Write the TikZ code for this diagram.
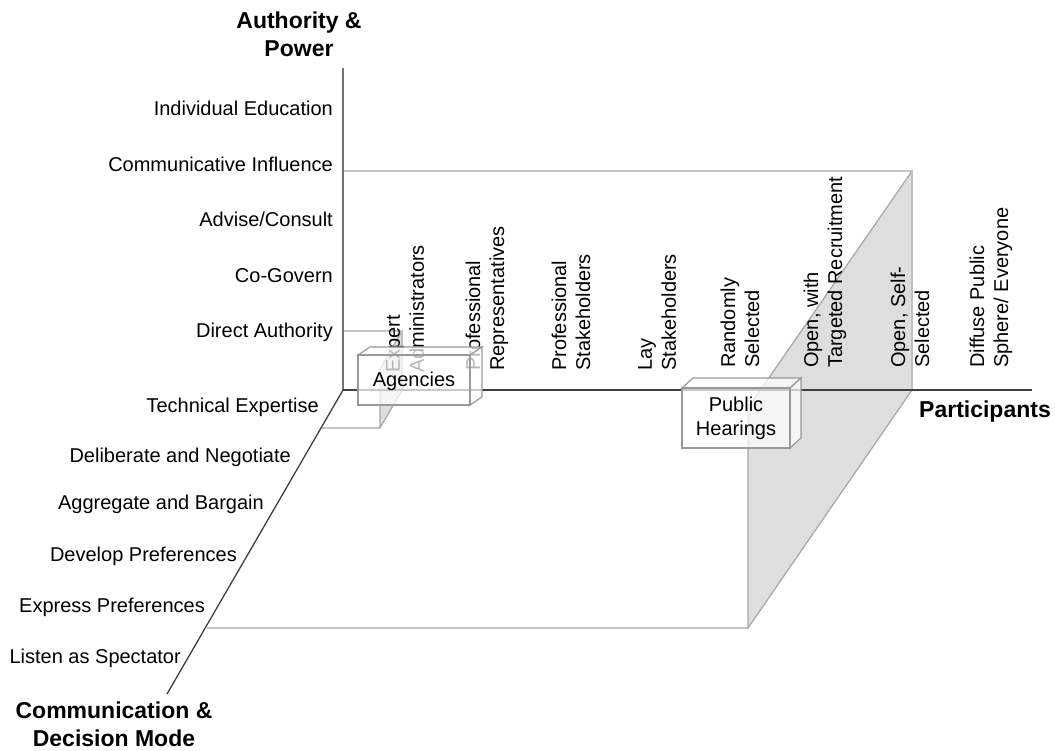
\documentclass[tikz,border=0pt]{standalone}
\usepackage{fontspec}
\setmainfont{Liberation Sans}
\begin{document}
\begin{tikzpicture}[x=1pt,y=-1pt,
  lab/.style={font=\fontsize{20}{24}\selectfont, inner sep=0pt, text=black},
  ttl/.style={font=\fontsize{23}{28}\selectfont\bfseries, align=center, inner sep=0pt},
  plab/.style={lab, rotate=90, anchor=west, align=left},
  axisline/.style={draw=black!75, line width=1.3pt},
  frame/.style={draw=black!35, line width=1.2pt},
  wall/.style={fill=black!13},
  boxface/.style={draw=black!40, line width=1.2pt, fill=white, fill opacity=0.72}]
\useasboundingbox (0,0) rectangle (1055,751);

% named coordinates
\coordinate (O) at (343,390);
\coordinate (Vtop) at (343,68);
\coordinate (Hend) at (1032,390);
\coordinate (Dend) at (167,694);

% large structure
\coordinate (WTop) at (912,171);
\coordinate (WBot) at (912,390);
\coordinate (FTop) at (748,408);
\coordinate (FBot) at (748,628);
\coordinate (FL) at (207,628);
\coordinate (BL) at (343,171);
\fill[wall] (WTop) -- (WBot) -- (FBot) -- (FTop) -- cycle;
\draw[frame] (BL) -- (WTop) -- (FTop) -- (FBot) -- (FL);
\draw[frame] (WBot) -- (FBot);
\draw[frame, draw=black!25] (WTop) -- (WBot);

% small structure
\coordinate (sTop) at (402,331);
\coordinate (sBot) at (402,390);
\coordinate (sFTop) at (380,369);
\coordinate (sFBot) at (380,428);
\coordinate (sFL) at (321,428);
\coordinate (sBL) at (343,331);
\fill[wall] (sTop) -- (sBot) -- (sFBot) -- (sFTop) -- cycle;
\draw[frame] (sBL) -- (sTop) -- (sFTop) -- (sFBot) -- (sFL);
\draw[frame] (sBot) -- (sFBot);
\draw[frame, draw=black!25] (sTop) -- (sBot);

% axes
\draw[axisline, draw=black!55] (Vtop) -- (O);
\draw[axisline] (O) -- (Hend);
\draw[axisline] (O) -- (Dend);

% titles
\node[ttl] (tA) at (299,34) {Authority \&\\Power};
\node[ttl] (tP) at (985,412) {Participants};
\node[ttl] (tC) at (114,724) {Communication \&\\Decision Mode};

% authority labels
\node[lab, anchor=east] (a1) at (333,108) {Individual Education};
\node[lab, anchor=east] (a2) at (333,164) {Communicative Influence};
\node[lab, anchor=east] (a3) at (333,219) {Advise/Consult};
\node[lab, anchor=east] (a4) at (333,276) {Co-Govern};
\node[lab, anchor=east] (a5) at (333,332) {Direct Authority};

% communication labels
\node[lab, anchor=east] (c1) at (319,407) {Technical Expertise};
\node[lab, anchor=east] (c2) at (291,457) {Deliberate and Negotiate};
\node[lab, anchor=east] (c3) at (264,504) {Aggregate and Bargain};
\node[lab, anchor=east] (c4) at (237,556) {Develop Preferences};
\node[lab, anchor=east] (c5) at (205,607) {Express Preferences};
\node[lab, anchor=east] (c6) at (181,658) {Listen as Spectator};

% participant labels
\node[plab] (p1) at (405,373) {Expert\\Administrators};
\node[plab] (p2) at (487,371) {Professional\\Representatives};
\node[plab] (p3) at (571,371) {Professional\\Stakeholders};
\node[plab] (p4) at (657,371) {Lay\\Stakeholders};
\node[plab] (p5) at (740,368) {Randomly\\Selected};
\node[plab] (p6) at (825,368) {Open, with\\Targeted Recruitment};
\node[plab] (p7) at (910,368) {Open, Self-\\Selected};
\node[plab] (p8) at (991,368) {Diffuse Public\\Sphere/ Everyone};

% Agencies box
\draw[boxface] (358,355) -- (370,347) -- (482,347) -- (470,355) -- cycle;
\draw[boxface] (470,355) -- (482,347) -- (482,397) -- (470,405) -- cycle;
\draw[boxface] (358,355) rectangle (470,405);
\node[lab] (ag) at (414,381) {Agencies};

% Public Hearings box
\draw[boxface] (682,388) -- (693,378) -- (801,378) -- (790,388) -- cycle;
\draw[boxface] (790,388) -- (801,378) -- (801,438) -- (790,448) -- cycle;
\draw[boxface] (682,388) rectangle (790,448);
\node[lab, align=center] (ph) at (736,418) {Public\\Hearings};
\end{tikzpicture}
\end{document}
